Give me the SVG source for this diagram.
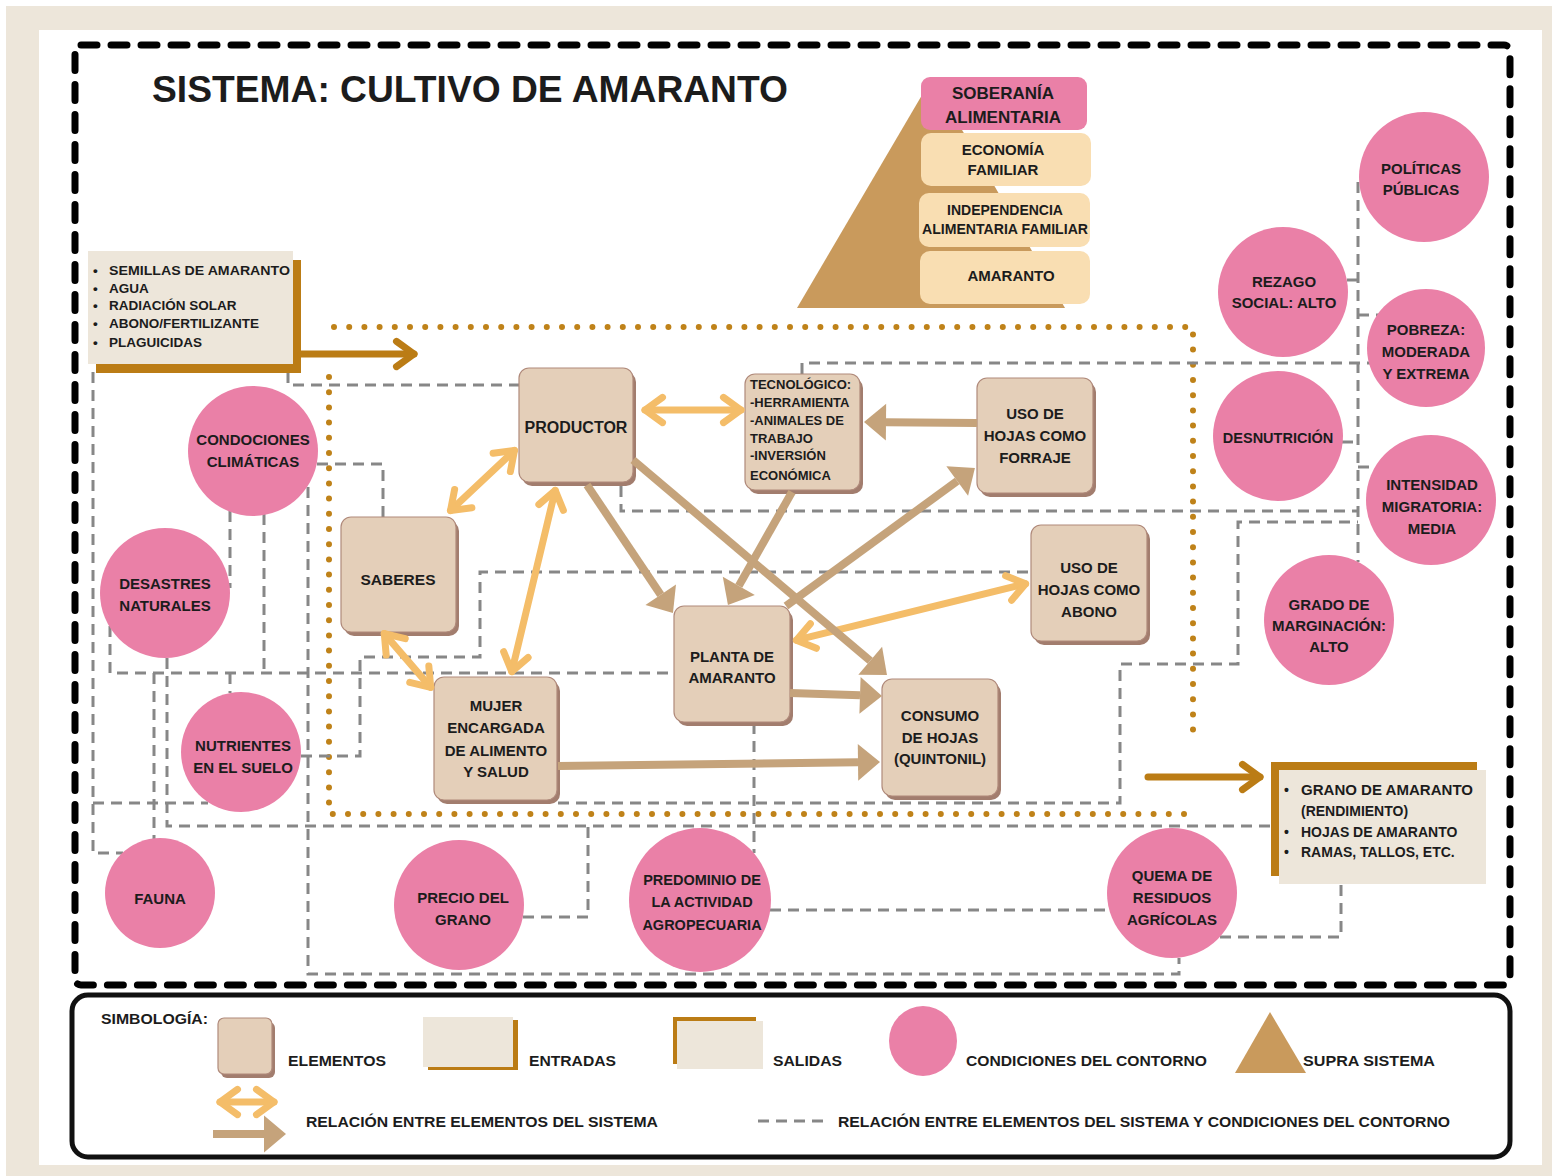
<svg xmlns="http://www.w3.org/2000/svg" width="1556" height="1176" viewBox="0 0 1556 1176">
<defs>
<style>
.t{font-family:"Liberation Sans",Arial,sans-serif;font-weight:bold;fill:#1c1c1c}
.m{text-anchor:middle}
.f13{font-size:13px}
.f135{font-size:13.5px}
.f14{font-size:14px}
.f15{font-size:15px}
.f155{font-size:15.5px}
.f17{font-size:17px}
.cc{fill:#ea80a7}
.el{fill:#e4cfb9;stroke:#b08a7b;stroke-width:1.2}
.sh{fill:#a27d6e}
.pk{fill:#f9deb2}
.beige{fill:#ede6da}
.brown{fill:#bb7c15}
.dash{fill:none;stroke:#878787;stroke-width:3;stroke-dasharray:11 7}
.rel{fill:none;stroke:#f4bd69;stroke-width:7;stroke-linecap:round;marker-start:url(#chev);marker-end:url(#chev)}
.flow{fill:none;stroke:#c5a37b;stroke-width:8;marker-end:url(#head)}
.io{fill:none;stroke:#bb7c15;stroke-width:7;stroke-linecap:round;marker-end:url(#chevb)}
.dots{fill:none;stroke:#bf8219;stroke-width:6;stroke-linecap:round;stroke-dasharray:0 15.2}
</style>
<marker id="chev" markerUnits="strokeWidth" orient="auto-start-reverse" overflow="visible" refX="0" refY="0" markerWidth="1" markerHeight="1">
<path d="M-2.5,-1.8 L0,0 L-2.5,1.8" fill="none" stroke="#f4bd69" stroke-width="1" stroke-linecap="round" stroke-linejoin="round"/>
</marker>
<marker id="chevb" markerUnits="strokeWidth" orient="auto" overflow="visible" refX="0" refY="0" markerWidth="1" markerHeight="1">
<path d="M-2.5,-1.8 L0,0 L-2.5,1.8" fill="none" stroke="#bb7c15" stroke-width="1" stroke-linecap="round" stroke-linejoin="round"/>
</marker>
<marker id="head" markerUnits="strokeWidth" orient="auto" overflow="visible" refX="0" refY="0" markerWidth="1" markerHeight="1">
<path d="M0,-2.3 L2.75,0 L0,2.3 z" fill="#c5a37b"/>
</marker>
</defs>

<!-- background -->
<rect x="0" y="0" width="1556" height="1176" fill="#ffffff"/>
<rect x="6" y="6" width="1546" height="1170" class="beige"/>
<rect x="39" y="30" width="1503" height="1135" fill="#ffffff"/>

<!-- title -->
<text class="t" x="152" y="102" font-size="36" fill="#2a2a2a" textLength="636" lengthAdjust="spacingAndGlyphs">SISTEMA: CULTIVO DE AMARANTO</text>

<!-- supra system pyramid -->
<g id="supra-sistema">
<polygon points="797,308 932,78 1065,308" fill="#c99a5c"/>
<g id="soberania">
<rect x="921" y="77" width="166" height="53" rx="9" class="cc"/>
<text class="t m f17" x="1003" y="99">SOBERANÍA</text>
<text class="t m f17" x="1003" y="123">ALIMENTARIA</text>
</g>
<g id="economia">
<rect x="921" y="133" width="170" height="53" rx="10" class="pk"/>
<text class="t m f15" x="1003" y="155">ECONOMÍA</text>
<text class="t m f15" x="1003" y="175">FAMILIAR</text>
</g>
<g id="independencia">
<rect x="919" y="193" width="171" height="54" rx="10" class="pk"/>
<text class="t m f14" x="1005" y="215">INDEPENDENCIA</text>
<text class="t m f14" x="1005" y="234" textLength="166" lengthAdjust="spacingAndGlyphs">ALIMENTARIA FAMILIAR</text>
</g>
<g id="amaranto-supra">
<rect x="920" y="251" width="170" height="53" rx="10" class="pk"/>
<text class="t m f15" x="1011" y="281">AMARANTO</text>
</g>
</g>

<!-- environment boundary -->
<rect x="75" y="45" width="1435" height="940" rx="6" fill="none" stroke="#000" stroke-width="7" stroke-dasharray="16 14" stroke-linecap="round"/>

<!-- system boundary (dotted) -->
<path class="dots" d="M334,327 H1193 V741"/>
<path class="dots" d="M329,377 V814 H1193"/>

<!-- dashed connectors: system elements to environment conditions -->
<g id="conexiones-contorno">
<path class="dash" d="M288,372 V385 H519"/>
<path class="dash" d="M93,372 V853 H123"/>
<path class="dash" d="M93,803 H208"/>
<path class="dash" d="M317,464 H383 V517"/>
<path class="dash" d="M230,511 V588"/>
<path class="dash" d="M264,514 V673"/>
<path class="dash" d="M110,626 V673 H674"/>
<path class="dash" d="M308,487 V974 H1179 V958"/>
<path class="dash" d="M167,658 V826 H1271"/>
<path class="dash" d="M154,673 V839"/>
<path class="dash" d="M230,673 V693"/>
<path class="dash" d="M301,756 H360 V657 H480 V572 H1031"/>
<path class="dash" d="M558,803 H1120 V664 H1238 V522 H1358"/>
<path class="dash" d="M1358,182 V562"/>
<path class="dash" d="M1347,280 H1358"/>
<path class="dash" d="M1358,315 H1379"/>
<path class="dash" d="M802,374 V363 H1370"/>
<path class="dash" d="M1342,442 H1358"/>
<path class="dash" d="M1358,467 H1376"/>
<path class="dash" d="M621,486 V511 H1358"/>
<path class="dash" d="M754,723 V853"/>
<path class="dash" d="M523,917 H588 V826"/>
<path class="dash" d="M770,910 H1109"/>
<path class="dash" d="M1220,937 H1341 V884"/>
</g>

<!-- inputs -->
<g id="entradas">
<rect x="96" y="260" width="205" height="113" class="brown"/>
<rect x="88" y="251" width="205" height="113" class="beige"/>
<text class="t f135" x="93" y="275">•</text><text class="t f135" x="109" y="275" textLength="181" lengthAdjust="spacingAndGlyphs">SEMILLAS DE AMARANTO</text>
<text class="t f135" x="93" y="293">•</text><text class="t f135" x="109" y="293">AGUA</text>
<text class="t f135" x="93" y="310">•</text><text class="t f135" x="109" y="310">RADIACIÓN SOLAR</text>
<text class="t f135" x="93" y="328">•</text><text class="t f135" x="109" y="328">ABONO/FERTILIZANTE</text>
<text class="t f135" x="93" y="347">•</text><text class="t f135" x="109" y="347">PLAGUICIDAS</text>
</g>

<!-- outputs -->
<g id="salidas">
<rect x="1271" y="762" width="206" height="114" class="brown"/>
<rect x="1279" y="770" width="207" height="114" class="beige"/>
<text class="t f14" x="1284" y="795">•</text><text class="t f14" x="1301" y="795" textLength="172" lengthAdjust="spacingAndGlyphs">GRANO DE AMARANTO</text>
<text class="t f14" x="1301" y="816">(RENDIMIENTO)</text>
<text class="t f14" x="1284" y="837">•</text><text class="t f14" x="1301" y="837">HOJAS DE AMARANTO</text>
<text class="t f14" x="1284" y="857">•</text><text class="t f14" x="1301" y="857">RAMAS, TALLOS, ETC.</text>
</g>

<!-- environment conditions -->
<g id="condiciones-climaticas">
<circle cx="253" cy="451" r="65" class="cc"/>
<text class="t m f15" x="253" y="445">CONDOCIONES</text>
<text class="t m f15" x="253" y="467">CLIMÁTICAS</text>
</g>
<g id="desastres-naturales">
<circle cx="165" cy="593" r="65" class="cc"/>
<text class="t m f15" x="165" y="589">DESASTRES</text>
<text class="t m f15" x="165" y="611">NATURALES</text>
</g>
<g id="nutrientes-suelo">
<circle cx="241" cy="752" r="60" class="cc"/>
<text class="t m f15" x="243" y="751">NUTRIENTES</text>
<text class="t m f15" x="243" y="773">EN EL SUELO</text>
</g>
<g id="fauna">
<circle cx="160" cy="893" r="55" class="cc"/>
<text class="t m f15" x="160" y="904">FAUNA</text>
</g>
<g id="precio-grano">
<circle cx="459" cy="905" r="65" class="cc"/>
<text class="t m f15" x="463" y="903">PRECIO DEL</text>
<text class="t m f15" x="463" y="925">GRANO</text>
</g>
<g id="predominio-agropecuario">
<ellipse cx="700" cy="900" rx="71" ry="72" class="cc"/>
<text class="t m" font-size="14.5" x="702" y="885">PREDOMINIO DE</text>
<text class="t m" font-size="14.5" x="702" y="907">LA ACTIVIDAD</text>
<text class="t m" font-size="14.5" x="702" y="930">AGROPECUARIA</text>
</g>
<g id="quema-residuos">
<circle cx="1172" cy="893" r="65" class="cc"/>
<text class="t m f15" x="1172" y="881">QUEMA DE</text>
<text class="t m f15" x="1172" y="903">RESIDUOS</text>
<text class="t m f15" x="1172" y="925">AGRÍCOLAS</text>
</g>
<g id="politicas-publicas">
<circle cx="1424" cy="177" r="65" class="cc"/>
<text class="t m f15" x="1421" y="174">POLÍTICAS</text>
<text class="t m f15" x="1421" y="195">PÚBLICAS</text>
</g>
<g id="rezago-social">
<circle cx="1283" cy="292" r="65" class="cc"/>
<text class="t m f15" x="1284" y="287">REZAGO</text>
<text class="t m f15" x="1284" y="308">SOCIAL: ALTO</text>
</g>
<g id="pobreza">
<circle cx="1426" cy="348" r="59" class="cc"/>
<text class="t m f15" x="1426" y="335">POBREZA:</text>
<text class="t m f15" x="1426" y="357">MODERADA</text>
<text class="t m f15" x="1426" y="379">Y EXTREMA</text>
</g>
<g id="desnutricion">
<circle cx="1278" cy="436" r="65" class="cc"/>
<text class="t m" font-size="14.5" x="1278" y="443">DESNUTRICIÓN</text>
</g>
<g id="intensidad-migratoria">
<circle cx="1431" cy="500" r="65" class="cc"/>
<text class="t m f15" x="1432" y="490">INTENSIDAD</text>
<text class="t m f15" x="1432" y="512">MIGRATORIA:</text>
<text class="t m f15" x="1432" y="534">MEDIA</text>
</g>
<g id="grado-marginacion">
<circle cx="1329" cy="620" r="65" class="cc"/>
<text class="t m f15" x="1329" y="610">GRADO DE</text>
<text class="t m f15" x="1329" y="631">MARGINACIÓN:</text>
<text class="t m f15" x="1329" y="652">ALTO</text>
</g>

<!-- system elements -->
<g id="productor">
<rect x="522" y="372" width="114" height="114" rx="10" class="sh"/>
<rect x="519" y="368" width="114" height="114" rx="10" class="el"/>
<text class="t m" font-size="16" x="576" y="433">PRODUCTOR</text>
</g>
<g id="tecnologico">
<rect x="748" y="378" width="115" height="116" rx="10" class="sh"/>
<rect x="745" y="374" width="115" height="116" rx="10" class="el"/>
<text class="t f13" x="750" y="389">TECNOLÓGICO:</text>
<text class="t f13" x="750" y="407">-HERRAMIENTA</text>
<text class="t f13" x="750" y="425">-ANIMALES DE</text>
<text class="t f13" x="750" y="443">TRABAJO</text>
<text class="t f13" x="750" y="460">-INVERSIÓN</text>
<text class="t f13" x="750" y="480">ECONÓMICA</text>
</g>
<g id="uso-forraje">
<rect x="980" y="382" width="116" height="115" rx="10" class="sh"/>
<rect x="977" y="378" width="116" height="115" rx="10" class="el"/>
<text class="t m f15" x="1035" y="419">USO DE</text>
<text class="t m f15" x="1035" y="441">HOJAS COMO</text>
<text class="t m f15" x="1035" y="463">FORRAJE</text>
</g>
<g id="uso-abono">
<rect x="1034" y="529" width="116" height="116" rx="10" class="sh"/>
<rect x="1031" y="525" width="116" height="116" rx="10" class="el"/>
<text class="t m f15" x="1089" y="573">USO DE</text>
<text class="t m f15" x="1089" y="595">HOJAS COMO</text>
<text class="t m f15" x="1089" y="617">ABONO</text>
</g>
<g id="planta-amaranto">
<rect x="677" y="610" width="116" height="116" rx="10" class="sh"/>
<rect x="674" y="606" width="116" height="116" rx="10" class="el"/>
<text class="t m f15" x="732" y="662">PLANTA DE</text>
<text class="t m f15" x="732" y="683">AMARANTO</text>
</g>
<g id="consumo-hojas">
<rect x="885" y="683" width="116" height="117" rx="10" class="sh"/>
<rect x="882" y="679" width="116" height="117" rx="10" class="el"/>
<text class="t m f15" x="940" y="721">CONSUMO</text>
<text class="t m f15" x="940" y="743">DE HOJAS</text>
<text class="t m f15" x="940" y="764">(QUINTONIL)</text>
</g>
<g id="saberes">
<rect x="344" y="521" width="115" height="115" rx="10" class="sh"/>
<rect x="341" y="517" width="115" height="115" rx="10" class="el"/>
<text class="t m" font-size="15.5" x="398" y="585">SABERES</text>
</g>
<g id="mujer">
<rect x="437" y="681" width="123" height="123" rx="10" class="sh"/>
<rect x="434" y="677" width="123" height="123" rx="10" class="el"/>
<text class="t m f15" x="496" y="711">MUJER</text>
<text class="t m f15" x="496" y="733">ENCARGADA</text>
<text class="t m f15" x="496" y="756">DE ALIMENTO</text>
<text class="t m f15" x="496" y="777">Y SALUD</text>
</g>

<!-- relations between elements -->
<g id="relaciones-elementos">
<path class="rel" d="M645,410 L741,410"/>
<path class="rel" d="M514.5,450.4 L450.5,510.6"/>
<path class="rel" d="M555.2,490.4 L511.8,671.6"/>
<path class="rel" d="M384.3,633.6 L430.7,687.4"/>
<path class="rel" d="M796.4,640.2 L1025.6,583.8"/>
<path class="flow" d="M977,423 L886,422.2"/>
<path class="flow" d="M587,485 L660.7,594.7"/>
<path class="flow" d="M633,460 L870.2,660.8"/>
<path class="flow" d="M792,492 L738.8,585.9"/>
<path class="flow" d="M786,606 L957.2,481"/>
<path class="flow" d="M790,693 L860,695.3"/>
<path class="flow" d="M558,766 L858,762.3"/>
</g>

<!-- input / output arrows -->
<g id="flujos-entrada-salida">
<path class="io" d="M301,354 L414,354"/>
<path class="io" d="M1148,777 L1260,777"/>
</g>

<!-- legend -->
<g id="simbologia">
<rect x="72" y="995" width="1438" height="162" rx="16" fill="#ffffff" stroke="#111" stroke-width="5"/>
<text class="t f155" x="101" y="1024" textLength="107" lengthAdjust="spacingAndGlyphs">SIMBOLOGÍA:</text>
<rect x="221" y="1022" width="54" height="56" rx="6" class="sh"/>
<rect x="218" y="1018" width="54" height="56" rx="6" class="el"/>
<text class="t f155" x="288" y="1066" textLength="98" lengthAdjust="spacingAndGlyphs">ELEMENTOS</text>
<rect x="428" y="1020" width="90" height="50" class="brown"/>
<rect x="423" y="1017" width="90" height="50" class="beige"/>
<text class="t f155" x="529" y="1066" textLength="87" lengthAdjust="spacingAndGlyphs">ENTRADAS</text>
<rect x="673" y="1017" width="83" height="47" class="brown"/>
<rect x="677" y="1021" width="86" height="48" class="beige"/>
<text class="t f155" x="773" y="1066" textLength="69" lengthAdjust="spacingAndGlyphs">SALIDAS</text>
<ellipse cx="923" cy="1041" rx="34" ry="35" class="cc"/>
<text class="t f155" x="966" y="1066" textLength="241" lengthAdjust="spacingAndGlyphs">CONDICIONES DEL CONTORNO</text>
<polygon points="1270,1012 1235,1073 1306,1073" fill="#c99a5c"/>
<text class="t f155" x="1303" y="1066" textLength="132" lengthAdjust="spacingAndGlyphs">SUPRA SISTEMA</text>
<path class="rel" d="M220,1102 L274,1102"/>
<path class="flow" d="M213,1134 L264,1134"/>
<text class="t f155" x="306" y="1127" textLength="352" lengthAdjust="spacingAndGlyphs">RELACIÓN ENTRE ELEMENTOS DEL SISTEMA</text>
<path class="dash" d="M758,1121 H823"/>
<text class="t f155" x="838" y="1127" textLength="612" lengthAdjust="spacingAndGlyphs">RELACIÓN ENTRE ELEMENTOS DEL SISTEMA Y CONDICIONES DEL CONTORNO</text>
</g>
</svg>
